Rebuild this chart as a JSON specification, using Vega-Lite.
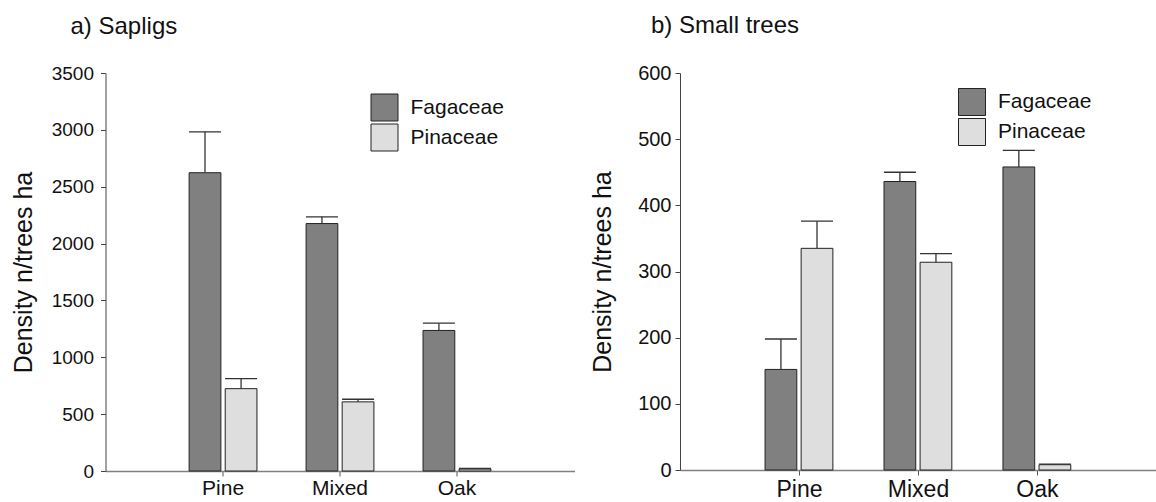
{
  "$schema": "https://vega.github.io/schema/vega-lite/v6.json",
  "padding": {"left": 10.5, "top": 14, "right": 0, "bottom": 0},
  "background": "white",
  "config": {
    "font": "Liberation Sans",
    "view": {"stroke": null},
    "concat": {"spacing": 15.5},
    "axis": {"grid": false, "labelColor": "#111", "titleColor": "#111", "titleFontWeight": "normal", "tickSize": 5},
    "title": {"fontWeight": "normal", "color": "#111", "anchor": "start", "frame": "group", "baseline": "alphabetic", "fontSize": 24}
  },
  "datasets": {
    "saplings": [
      {"stand": "Pine", "taxon": "Fagaceae", "value": 2623, "upper": 2983},
      {"stand": "Pine", "taxon": "Pinaceae", "value": 724, "upper": 812},
      {"stand": "Mixed", "taxon": "Fagaceae", "value": 2176, "upper": 2235},
      {"stand": "Mixed", "taxon": "Pinaceae", "value": 608, "upper": 631},
      {"stand": "Oak", "taxon": "Fagaceae", "value": 1236, "upper": 1300},
      {"stand": "Oak", "taxon": "Pinaceae", "value": 18, "upper": 22}
    ],
    "small": [
      {"stand": "Pine", "taxon": "Fagaceae", "value": 152, "upper": 198},
      {"stand": "Pine", "taxon": "Pinaceae", "value": 335, "upper": 376},
      {"stand": "Mixed", "taxon": "Fagaceae", "value": 436, "upper": 450},
      {"stand": "Mixed", "taxon": "Pinaceae", "value": 314, "upper": 327},
      {"stand": "Oak", "taxon": "Fagaceae", "value": 458, "upper": 483},
      {"stand": "Oak", "taxon": "Pinaceae", "value": 8, "upper": 9}
    ]
  },
  "hconcat": [
    {
      "width": 469,
      "height": 398,
      "title": {"text": "a) Sapligs", "dx": -35, "offset": 25},
      "data": {"name": "saplings"},
      "encoding": {
        "x": {"field": "stand", "type": "nominal", "sort": ["Pine", "Mixed", "Oak"],
              "scale": {"paddingInner": 0.42, "paddingOuter": 0.715},
              "axis": {"title": null, "labelAngle": 0, "labelFontSize": 21, "labelPadding": 1, "domainColor": "#808080", "domainWidth": 1.5, "tickColor": "#555"}},
        "xOffset": {"field": "taxon", "type": "nominal", "sort": ["Fagaceae", "Pinaceae"], "scale": {"paddingInner": 0.12}}
      },
      "layer": [
        {
          "mark": {"type": "bar", "stroke": "#222", "strokeWidth": 1},
          "encoding": {
            "y": {"field": "value", "type": "quantitative", "scale": {"domain": [0, 3500]},
                  "axis": {"title": "Density n/trees ha", "format": "d", "titleFontSize": 25, "titlePadding": 15, "values": [0, 500, 1000, 1500, 2000, 2500, 3000, 3500], "labelFontSize": 19, "labelPadding": 7, "domainColor": "#444", "tickColor": "#444"}},
            "color": {"field": "taxon", "type": "nominal",
                      "scale": {"domain": ["Fagaceae", "Pinaceae"], "range": ["#808080", "#dedede"]},
                      "legend": {"title": null, "orient": "none", "legendX": 265, "legendY": 20.5, "symbolType": "square", "symbolSize": 729, "symbolStrokeColor": "#222", "symbolStrokeWidth": 1, "symbolOpacity": 1, "labelFontSize": 21, "labelOffset": 12, "rowPadding": -2, "padding": 0, "labelColor": "#111"}}
          }
        },
        {
          "mark": {"type": "rule", "color": "#333", "strokeWidth": 1.3},
          "encoding": {
            "y": {"field": "value", "type": "quantitative", "title": "Density n/trees ha"},
            "y2": {"field": "upper"}
          }
        },
        {
          "mark": {"type": "tick", "orient": "horizontal", "size": 32, "thickness": 1.3, "color": "#333", "opacity": 1},
          "encoding": {
            "y": {"field": "upper", "type": "quantitative", "title": "Density n/trees ha"}
          }
        }
      ]
    },
    {
      "width": 477,
      "height": 397,
      "title": {"text": "b) Small trees", "dx": -29, "offset": 25},
      "data": {"name": "small"},
      "encoding": {
        "x": {"field": "stand", "type": "nominal", "sort": ["Pine", "Mixed", "Oak"],
              "scale": {"paddingInner": 0.42, "paddingOuter": 0.715},
              "axis": {"title": null, "labelAngle": 0, "labelFontSize": 23, "labelPadding": 3, "domainColor": "#808080", "domainWidth": 1.5, "tickColor": "#555"}},
        "xOffset": {"field": "taxon", "type": "nominal", "sort": ["Fagaceae", "Pinaceae"], "scale": {"paddingInner": 0.12}}
      },
      "layer": [
        {
          "mark": {"type": "bar", "stroke": "#222", "strokeWidth": 1},
          "encoding": {
            "y": {"field": "value", "type": "quantitative", "scale": {"domain": [0, 600]},
                  "axis": {"title": "Density n/trees ha", "format": "d", "titleFontSize": 25, "titlePadding": 22, "values": [0, 100, 200, 300, 400, 500, 600], "labelFontSize": 20, "labelPadding": 4, "domainColor": "#444", "tickColor": "#444"}},
            "color": {"field": "taxon", "type": "nominal",
                      "scale": {"domain": ["Fagaceae", "Pinaceae"], "range": ["#808080", "#dedede"]},
                      "legend": {"title": null, "orient": "none", "legendX": 278, "legendY": 15, "symbolType": "square", "symbolSize": 729, "symbolStrokeColor": "#222", "symbolStrokeWidth": 1, "symbolOpacity": 1, "labelFontSize": 21, "labelOffset": 12, "rowPadding": -2, "padding": 0, "labelColor": "#111"}}
          }
        },
        {
          "mark": {"type": "rule", "color": "#333", "strokeWidth": 1.3},
          "encoding": {
            "y": {"field": "value", "type": "quantitative", "title": "Density n/trees ha"},
            "y2": {"field": "upper"}
          }
        },
        {
          "mark": {"type": "tick", "orient": "horizontal", "size": 32, "thickness": 1.3, "color": "#333", "opacity": 1},
          "encoding": {
            "y": {"field": "upper", "type": "quantitative", "title": "Density n/trees ha"}
          }
        }
      ]
    }
  ],
  "resolve": {"scale": {"color": "independent", "x": "independent", "y": "independent"}, "legend": {"color": "independent"}}
}
